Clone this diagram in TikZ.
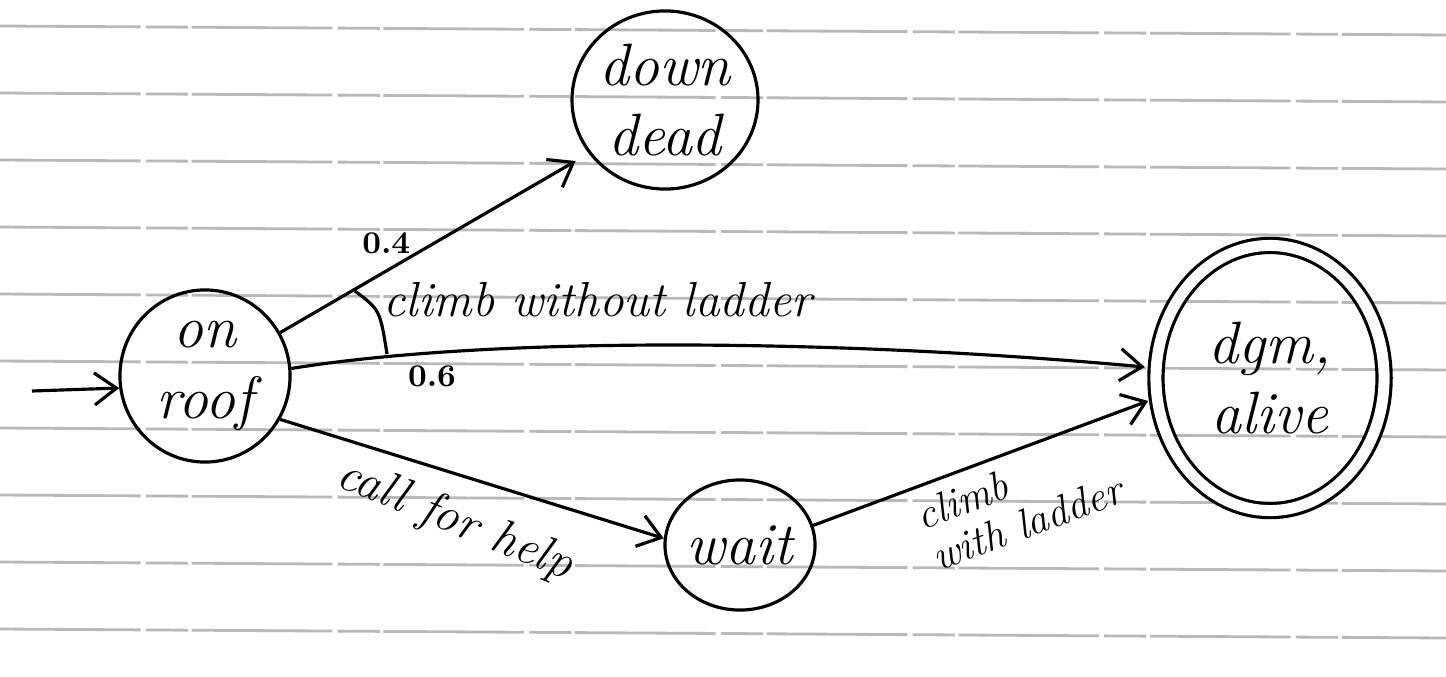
\documentclass[tikz,border=0pt]{standalone}
\usetikzlibrary{shapes.geometric,arrows.meta}
\begin{document}
\begin{tikzpicture}[x=0.01cm,y=-0.01cm,
  state/.style={draw, ellipse, line width=0.9pt, inner sep=0pt, align=center,
    font=\fontsize{17}{20}\selectfont\itshape},
  arr/.style={line width=0.9pt, -{Straight Barb[length=2.2mm,width=3.2mm,line width=0.9pt]}},
  paper/.style={draw=gray!55, line width=0.8pt, dash pattern=on 40pt off 1.5pt on 12pt off 1pt},
  lbl/.style={font=\fontsize{14}{16}\selectfont\itshape},
  prob/.style={font=\fontsize{9}{10}\selectfont\bfseries}
]
\useasboundingbox[fill=white] (0,0) rectangle (1446,676);
% ruled paper
\foreach \k in {0,...,9}
  \draw[paper] (0,{26+67*\k}) -- (1446,{35+67*\k});
% states
\node[state, minimum width=1.7cm, minimum height=1.72cm] (roof) at (205,376) {on\\roof};
\node[state, minimum width=1.84cm, minimum height=1.78cm] (down) at (665,100) {down\\dead};
\node[state, minimum width=1.45cm, minimum height=1.3cm] (wait) at (740,545) {wait};
\node[state, double, double distance=0.11cm, minimum width=2.28cm, minimum height=2.65cm] (alive) at (1270,378) {dgm,\\alive};
% start arrow
\coordinate (s) at (32,391);
\draw[arr] (s) -- (roof.188);
% climb without ladder
\draw[arr, shorten >=0.15cm] (roof.30) -- node[prob, pos=0.36, xshift=-0.05cm, yshift=0.25cm] (p4) {0.4} (down.215);
\draw[arr, shorten >=0.1cm] (roof.5) .. controls (500,335) and (850,340) ..
  node[prob, pos=0.2, yshift=-0.23cm] (p6) {0.6}
  node[lbl, pos=0.4, yshift=0.46cm] (cwl) {climb without ladder} (alive.175);
\draw[line width=0.9pt] (355,291) .. controls (380,310) .. (387,354);
% call for help
\draw[arr] (roof.-30) -- node[lbl, sloped, rotate=-5, pos=0.5, below=0.1cm] (cfh) {call for help} (wait.175);
% climb with ladder
\draw[arr, shorten >=0.08cm] (wait.15) -- node[sloped, pos=0.55, below=0pt, align=left,
  font=\fontsize{12}{12.5}\selectfont\itshape] (cwith) {climb\\with ladder} (alive.190);
\end{tikzpicture}
\end{document}
